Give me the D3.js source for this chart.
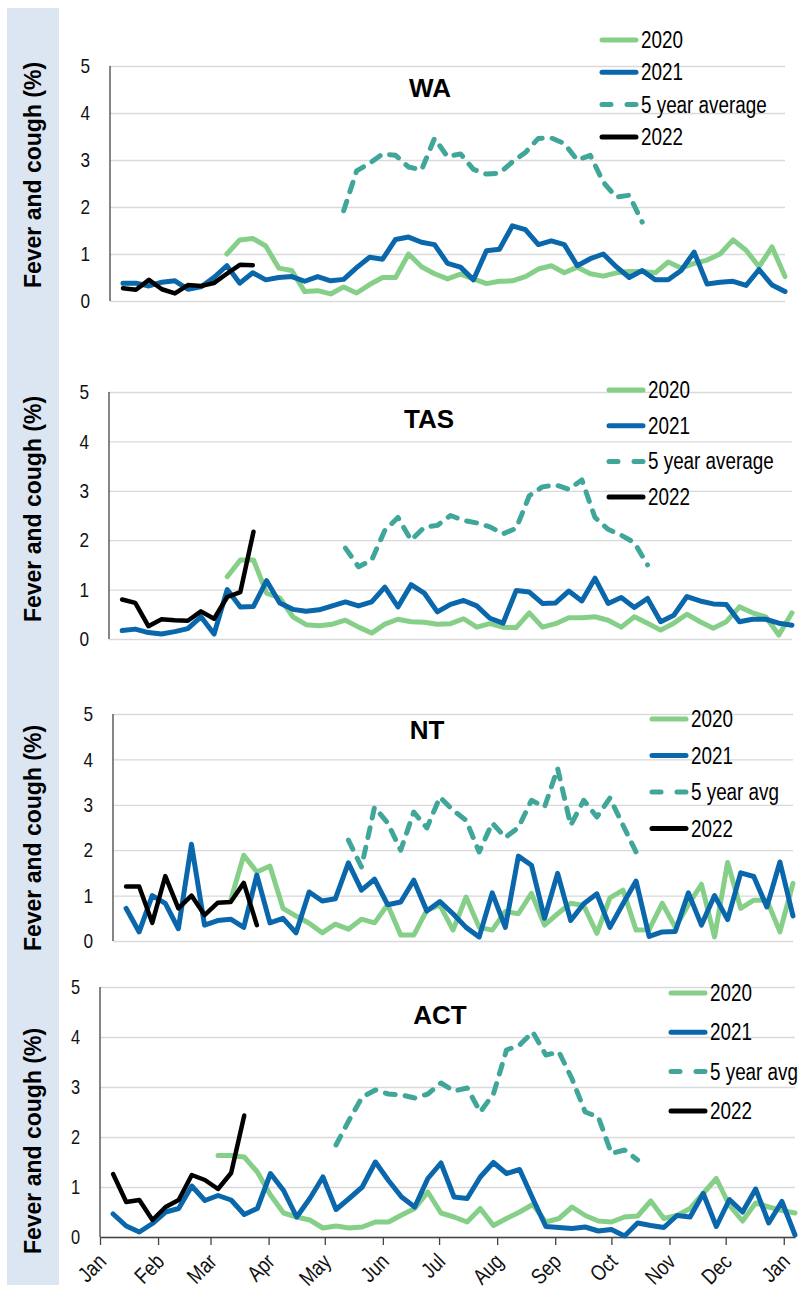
<!DOCTYPE html>
<html>
<head>
<meta charset="utf-8">
<title>Fever and cough by state</title>
<script src="https://d3js.org/d3.v7.min.js"></script>
<style>
  body { margin: 0; background: #fff; }
</style>
</head>
<body>
<script>
// weekly values (%), weeks ending 8 Jan onwards
var wa2020 = [null,null,null,null,null,null,null,null, 1.0,1.3,1.33,1.17,0.7,0.65,0.2,0.22,0.15,0.3,0.17,0.35,0.5,0.5,
  1.0,0.73,0.58,0.47,0.57,0.47,0.37,0.42,0.43,0.52,0.68,0.75,0.6,0.72,0.58,0.53,0.6,0.63,0.63,0.6,0.83,0.7,0.8,0.87,1.0,1.3,1.08,0.73,1.15,0.52];
var wa2021 = [0.38,0.38,0.32,0.4,0.43,0.25,0.3,0.5,0.75,0.38, 0.6,0.45,0.5,0.52,0.42,0.52,0.43,0.46,0.71,0.93,
  0.89,1.31,1.36,1.25,1.2,0.8,0.72,0.45,1.07,1.1, 1.6,1.52,1.2,1.28,1.2,0.75,0.9,1.0,0.73,0.5,
  0.65,0.45,0.45,0.65,1.04,0.36,0.4,0.42,0.33,0.67, 0.34,0.2];
var waAvg = [null,null,null,null,null,null,null,null,null,null,null,null,null,null,null,null,null,
  1.92,2.77,2.93,3.13,3.1,2.85,2.79,3.46,3.07,3.13,2.8,2.7,2.72,2.96,3.16,3.46,3.47,3.35,3.0,3.1,2.53,2.21,2.25,1.68,
  null,null,null,null,null,null,null,null,null,null,null];
var wa2022 = [0.27,0.24,0.45,0.25,0.16,0.34,0.32,0.38,0.58,0.77,0.76];

var tas2020 = [null,null,null,null,null,null,null,null, 1.26,1.6,1.6,0.93,0.83,0.45,0.29,0.27,0.3,0.38,0.24,0.12,0.3,0.4,
  0.35,0.34,0.3,0.31,0.41,0.24,0.31,0.24,0.23,0.53,0.24,0.31,0.43,0.43,0.45,0.38,0.24,0.45,0.32,0.18,0.32,0.5,0.35,0.22,0.35,0.65,0.53,0.45,0.08,0.53];
var tas2021 = [0.17,0.2,0.13,0.1,0.15,0.21,0.45,0.1,1.0,0.65, 0.66,1.18,0.73,0.6,0.56,0.59,0.67,0.75,0.67,0.75,
  1.05,0.65,1.1,0.93,0.55,0.7,0.78,0.67,0.42,0.32, 0.98,0.95,0.72,0.73,0.97,0.77,1.23,0.72,0.84,0.64,
  0.82,0.35,0.48,0.86,0.77,0.71,0.7,0.35,0.4,0.4, 0.32,0.28];
var tasAvg = [null,null,null,null,null,null,null,null,null,null,null,null,null,null,null,null,null,
  1.84,1.46,1.6,2.2,2.46,2.0,2.26,2.3,2.5,2.4,2.35,2.27,2.13,2.24,2.9,3.08,3.12,3.03,3.22,2.46,2.22,2.1,1.95,1.5,
  null,null,null,null,null,null,null,null,null,null,null];
var tas2022 = [0.8,0.73,0.26,0.4,0.38,0.37,0.56,0.41,0.85,0.95,2.17];

var nt2020 = [null,null,null,null,null,null,null,null, 0.9,1.89,1.52,1.65,0.72,0.55,0.39,0.18,0.37,0.26,0.48,0.4,0.8,0.13,
  0.13,0.68,0.79,0.24,0.97,0.3,0.24,0.65,0.6,1.05, 0.35,0.6,0.83,0.78,0.17,0.95,1.12,0.24,0.25,0.83,
  0.3,0.8,1.25,0.09,1.73,0.72,0.9,0.9,0.2,1.27];
var nt2021 = [0.72,0.2,1.0,0.83,0.27,2.13,0.35,0.45,0.48,0.3, 1.45,0.4,0.5,0.18,1.08,0.88,0.93,1.72,1.12,1.36,
  0.8,0.86,1.34,0.66,0.87,0.6,0.3,0.09,1.06,0.3, 1.87,1.67,0.5,1.49,0.45,0.82,1.04,0.3,0.82,1.32,
  0.1,0.2,0.21,1.06,0.35,1.0,0.47,1.5,1.42,0.75, 1.74,0.55];
var ntAvg = [null,null,null,null,null,null,null,null,null,null,null,null,null,null,null,null,null,
  2.22,1.63,2.95,2.6,2.0,2.84,2.49,3.17,2.88,2.66,1.96,2.6,2.28,2.5,3.1,2.95,3.8,2.55,3.1,2.73,3.15,2.55,1.96,
  null,null,null,null,null,null,null,null,null,null,null,null];
var nt2022 = [1.2,1.2,0.4,1.43,0.72,1.0,0.57,0.84,0.86,1.28,0.35];

var act2020 = [null,null,null,null,null,null,null,null, 1.63,1.63,1.6,1.3,0.84,0.48,0.4,0.34,0.18,0.22,0.18,0.2,0.3,0.3,
  0.44,0.57,0.9,0.48,0.4,0.3,0.57,0.23,0.37,0.5, 0.65,0.3,0.37,0.6,0.43,0.32,0.3,0.4,0.42,0.72,
  0.37,0.43,0.57,0.87,1.17,0.63,0.32,0.68,0.6,0.53, 0.48];
var act2021 = [0.46,0.22,0.1,0.27,0.5,0.57,1.02,0.73,0.83,0.74, 0.45,0.57,1.27,0.93,0.4,0.77,1.2,0.55,0.77,1.0,
  1.5,1.13,0.8,0.6,1.17,1.48,0.8,0.77,1.2,1.49, 1.27,1.35,0.77,0.21,0.19,0.17,0.2,0.12,0.15,0.02,
  0.28,0.23,0.19,0.43,0.4,0.87,0.21,0.75,0.5,0.96, 0.28,0.71,0.04];
var actAvg = [null,null,null,null,null,null,null,null,null,null,null,null,null,null,null,null,null,
  1.84,2.34,2.8,2.94,2.86,2.84,2.78,2.86,3.08,2.92,2.98,2.5,2.86,3.74,3.84,4.1,3.64,3.7,3.16,2.5,2.4,1.67,1.74,1.54,
  null,null,null,null,null,null,null,null,null,null,null,null];
var act2022 = [1.26,0.7,0.74,0.34,0.6,0.74,1.24,1.14,0.96,1.28,2.43];

var yTicks = [0, 1, 2, 3, 4, 5];
var seriesNames = ["2020", "2021", "5yr", "2022"];

var sans = '"Liberation Sans", Arial, sans-serif';
var squeeze = " scale(0.82,1)"; // Arial Narrow look
var colors = { "2020": "#86cf89", "2021": "#0a67ab", "5yr": "#40a69a", "2022": "#000" };
var widths = { "2020": 5, "2021": 5, "5yr": 5, "2022": 4.5 };

var start = new Date(2021, 0, 1);

var panels = [
  { title: "WA", data: [wa2020, wa2021, waAvg, wa2022], avgLabel: "5 year average", end: new Date(2021, 11, 31),
    l: 110, r: 785, t: 66, b: 301, labelY: 175, titleX: 430, titleY: 97, legX: 600, legY: 40, legGap: 32.3 },
  { title: "TAS", data: [tas2020, tas2021, tasAvg, tas2022], avgLabel: "5 year average", end: new Date(2021, 11, 31),
    l: 109, r: 792, t: 392, b: 639, labelY: 509, titleX: 429, titleY: 428, legX: 607, legY: 390, legGap: 35.7 },
  { title: "NT", data: [nt2020, nt2021, ntAvg, nt2022], avgLabel: "5 year avg", end: new Date(2021, 11, 31),
    l: 113, r: 793, t: 714, b: 941, labelY: 838, titleX: 427, titleY: 739, legX: 650, legY: 719, legGap: 36.5 },
  { title: "ACT", data: [act2020, act2021, actAvg, act2022], avgLabel: "5 year avg", end: new Date(2022, 0, 7),
    l: 100, r: 795, t: 987, b: 1237, labelY: 1141, titleX: 440, titleY: 1024, legX: 669, legY: 993, legGap: 39.3, months: true }
];

var svg = d3.select("body").append("svg").attr("width", 804).attr("height", 1292);

// pale band behind the axis titles
svg.append("rect").attr("x", 7).attr("y", 8).attr("width", 52).attr("height", 1277).attr("fill", "#dce6f2");

panels.forEach(function (p) {
  var g = svg.append("g");
  var x = d3.scaleTime().domain([start, p.end]).range([p.l, p.r]);
  var y = d3.scaleLinear().domain([0, 5]).range([p.b, p.t]);
  var weekDate = i => d3.timeDay.offset(start, 7 * (i + 1));

  // gridlines + y tick labels
  var ya = g.append("g").attr("transform", "translate(" + p.l + ",0)")
    .call(d3.axisLeft(y).tickValues(yTicks).tickSize(-(p.r - p.l)).tickPadding(20).tickFormat(d3.format("d")));
  ya.select(".domain").remove();
  ya.selectAll(".tick line").attr("stroke", "#d9d9d9").attr("stroke-width", 1.3);
  ya.selectAll(".tick text").attr("font-family", sans).attr("font-size", p.months ? "20px" : "21px").attr("fill", "#111")
    .attr("x", 0).attr("transform", "translate(-20,0)" + squeeze);

  if (p.months) {
    var xa = g.append("g").attr("transform", "translate(0," + p.b + ")")
      .call(d3.axisBottom(x).ticks(d3.timeMonth.every(1)).tickFormat(d3.timeFormat("%b")).tickSize(8).tickSizeOuter(0));
    xa.select(".domain").attr("stroke", "#444").attr("stroke-width", 1.3);
    xa.selectAll(".tick line").attr("stroke", "#444").attr("stroke-width", 1.3);
    xa.selectAll(".tick text")
      .attr("font-family", sans).attr("font-size", "22px").attr("fill", "#111")
      .attr("y", 0).attr("dy", 0).attr("text-anchor", "end")
      .attr("transform", "translate(7,26) rotate(-45)" + squeeze);
  }

  // y axis line
  g.append("line").attr("x1", p.l).attr("x2", p.l).attr("y1", y(5)).attr("y2", y(0))
    .attr("stroke", "#444").attr("stroke-width", 1.3);

  // axis title in the band
  g.append("text").attr("transform", "translate(41," + p.labelY + ") rotate(-90)")
    .attr("text-anchor", "middle").attr("font-family", sans).attr("font-weight", "bold")
    .attr("font-size", "23px").attr("fill", "#000").text("Fever and cough (%)");

  // state title
  g.append("text").attr("x", p.titleX).attr("y", p.titleY).attr("text-anchor", "middle")
    .attr("font-family", sans).attr("font-weight", "bold").attr("font-size", "26px").text(p.title);

  var line = d3.line().defined(d => d != null).x((d, i) => x(weekDate(i))).y(d => y(d));

  p.data.forEach(function (vals, k) {
    var name = seriesNames[k];
    g.append("path").datum(vals)
      .attr("d", line)
      .attr("fill", "none")
      .attr("stroke", colors[name])
      .attr("stroke-width", widths[name])
      .attr("stroke-linejoin", "round")
      .attr("stroke-linecap", "round")
      .attr("stroke-dasharray", name == "5yr" ? "10,10" : null);
  });

  // legend
  var labels = ["2020", "2021", p.avgLabel, "2022"];
  seriesNames.forEach(function (name, k) {
    var ly = p.legY + k * p.legGap;
    g.append("line").attr("x1", p.legX + 2).attr("x2", p.legX + 36).attr("y1", ly).attr("y2", ly)
      .attr("stroke", colors[name]).attr("stroke-width", 5).attr("stroke-linecap", "round")
      .attr("stroke-dasharray", name == "5yr" ? "9,16" : null);
    g.append("text").attr("transform", "translate(" + (p.legX + 41) + "," + (ly + 8) + ")" + squeeze)
      .attr("font-family", sans).attr("font-size", "23px").attr("fill", "#000").text(labels[k]);
  });
});
</script>
</body>
</html>
